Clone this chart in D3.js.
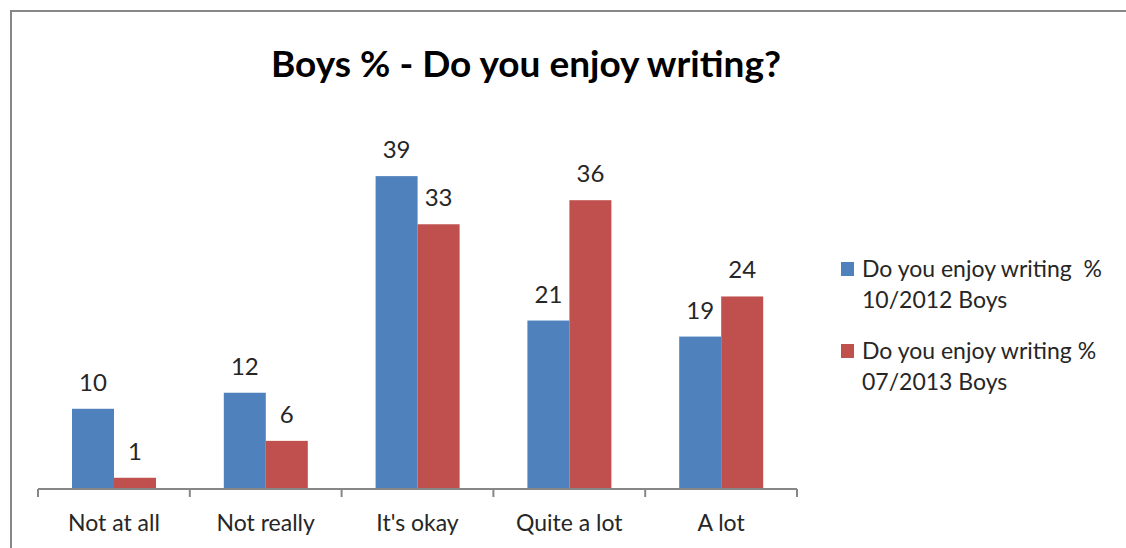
<!DOCTYPE html>
<html lang="en">
<head>
<meta charset="UTF-8">
<script src="https://d3js.org/d3.v7.min.js"></script>
<style>
  body { margin: 0; background: #fff; }
  svg text { font-family: Lato, "Open Sans", sans-serif; white-space: pre; }
</style>
</head>
<body>
<script>
// data
const categories = ["Not at all", "Not really", "It's okay", "Quite a lot", "A lot"];
const legendLines = [["Do you enjoy writing  %", "10/2012 Boys"], ["Do you enjoy writing %", "07/2013 Boys"]];
const boys2012 = [10, 12, 39, 21, 19];
const boys2013 = [1.4, 6, 33, 36, 24];
const colors = ["#4F81BD", "#C0504D"];

const w = 1126, h = 548;
const svg = d3.select("body").append("svg")
  .attr("width", w)
  .attr("height", h);

// chart frame (only left and top edges show in the crop)
svg.append("path")
  .attr("d", "M11,548 V11 H1126")
  .attr("fill", "none")
  .attr("stroke", "#878787")
  .attr("stroke-width", 2);

svg.append("text")
  .attr("x", 526)
  .attr("y", 77)
  .attr("text-anchor", "middle")
  .attr("font-size", 37)
  .attr("font-weight", "bold")
  .attr("fill", "#000")
  .text("Boys % - Do you enjoy writing?");

// scales
const xScale = d3.scaleBand()
  .domain(categories)
  .range([38, 797]);

const xSub = d3.scaleBand()
  .domain([0, 1])
  .range([34, 118]);

const yScale = d3.scaleLinear()
  .domain([0, 45])
  .range([489, 128]);

const rows = categories.map((c, i) => ({ cat: c, vals: [boys2012[i], boys2013[i]] }));

const groups = svg.selectAll("g.group")
  .data(rows)
  .enter()
  .append("g")
  .attr("class", "group")
  .attr("transform", d => "translate(" + xScale(d.cat) + ",0)");

groups.selectAll("rect")
  .data(d => d.vals.map((v, j) => ({ v: v, j: j })))
  .enter()
  .append("rect")
  .attr("x", d => xSub(d.j))
  .attr("y", d => yScale(d.v))
  .attr("width", xSub.bandwidth())
  .attr("height", d => yScale(0) - yScale(d.v))
  .attr("fill", d => colors[d.j]);

groups.selectAll("text.val")
  .data(d => d.vals.map((v, j) => ({ v: v, j: j })))
  .enter()
  .append("text")
  .attr("class", "val")
  .attr("x", d => xSub(d.j) + xSub.bandwidth() / 2)
  .attr("y", d => yScale(d.v) - 18)
  .attr("text-anchor", "middle")
  .attr("font-size", 24)
  .attr("fill", "#262626")
  .text(d => Math.round(d.v));

// x axis: labels centred, ticks on category boundaries
const xAxis = d3.axisBottom(xScale).tickSize(0).tickPadding(26);
const axisG = svg.append("g")
  .attr("transform", "translate(0," + yScale(0) + ")")
  .call(xAxis);
axisG.select(".domain").remove();
axisG.selectAll("text")
  .attr("font-size", 23)
  .attr("font-family", "Lato, sans-serif")
  .attr("fill", "#262626");

const bounds = categories.map(c => xScale(c)).concat([xScale.range()[1]]);
svg.append("line")
  .attr("x1", xScale.range()[0]).attr("x2", xScale.range()[1])
  .attr("y1", yScale(0)).attr("y2", yScale(0))
  .attr("stroke", "#878787").attr("stroke-width", 2);
svg.selectAll("line.tick")
  .data(bounds)
  .enter()
  .append("line")
  .attr("class", "tick")
  .attr("x1", d => d).attr("x2", d => d)
  .attr("y1", yScale(0)).attr("y2", yScale(0) + 8)
  .attr("stroke", "#878787").attr("stroke-width", 2);

// legend
const legend = svg.append("g").attr("transform", "translate(841,0)");
const legendY = [277, 359];
legendLines.forEach((lines, i) => {
  legend.append("rect")
    .attr("x", 0)
    .attr("y", legendY[i] - 15)
    .attr("width", 13)
    .attr("height", 14)
    .attr("fill", colors[i]);
  legend.append("text")
    .attr("x", 21)
    .attr("y", legendY[i])
    .attr("font-size", 23)
    .attr("fill", "#262626")
    .selectAll("tspan")
    .data(lines)
    .enter()
    .append("tspan")
    .attr("x", 21)
    .attr("dy", (d, k) => k === 0 ? 0 : 31)
    .text(d => d);
});
</script>
</body>
</html>
